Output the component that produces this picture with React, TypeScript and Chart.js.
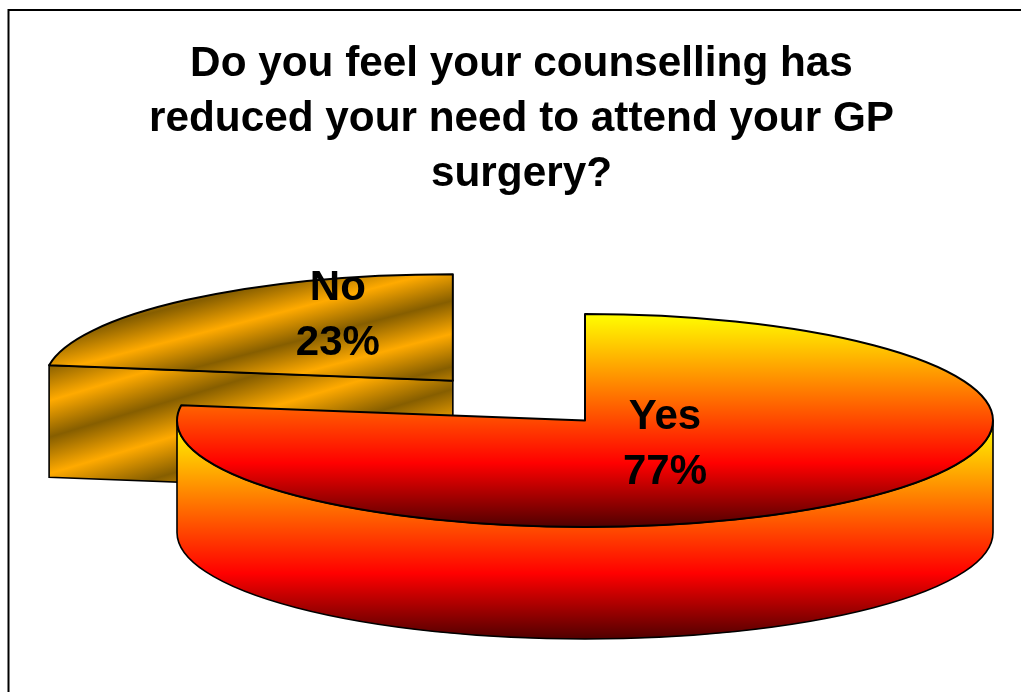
import React, { useEffect, useRef } from "react";
import { Chart, registerables } from "chart.js";

Chart.register(...registerables);

const categories = ["No", "Yes"];
const percentages = [22.7, 77.3];
const explodePixels = [202, 0];
const titleLines = [
  "Do you feel your counselling has",
  "reduced your need to attend your GP",
  "surgery?",
];

const FONT = "'Liberation Sans', Arial, sans-serif";
const RADIUS = 408;
const SQUASH = 0.261;
const DEPTH = 112;
const PIE_X = 585;
const PIE_Y = 420.5;
const START_ROTATION = (-percentages[0] / (percentages[0] + percentages[1])) * 360;
const LABEL_SHIFT = [
  [-115, -65],
  [80, 24],
];
const TOP_BAND_SLOPE = 0.26;
const TOP_BAND_PERIOD = 66;
const SIDE_BAND_SLOPE = 0.3;
const SIDE_BAND_PERIOD = 73;
const BAND_LIGHT = "#FFAA00";
const BAND_DARK = "#865E00";

function fireStops(g: CanvasGradient) {
  g.addColorStop(0, "#FFFF00");
  g.addColorStop(0.7, "#FF0000");
  g.addColorStop(1, "#500000");
  return g;
}

function bandGradient(ctx: CanvasRenderingContext2D, ax: number, ay: number, gx: number, gy: number) {
  const n2 = gx * gx + gy * gy;
  const N = 8;
  const ux = (gx / n2) * N;
  const uy = (gy / n2) * N;
  const g = ctx.createLinearGradient(ax - ux, ay - uy, ax + ux, ay + uy);
  const steps = N * 4;
  for (let i = 0; i <= steps; i++) {
    g.addColorStop(i / steps, i % 2 === 0 ? BAND_LIGHT : BAND_DARK);
  }
  return g;
}

function explodeOf(index: number, start: number, end: number) {
  const mid = (start + end) / 2;
  return { dx: Math.cos(mid) * explodePixels[index], dy: Math.sin(mid) * explodePixels[index] };
}

function sliceFill(c: any) {
  const chart = c.chart;
  const area = chart.chartArea;
  if (!area) return BAND_LIGHT;
  const ctx = chart.ctx;
  const cx0 = (area.left + area.right) / 2;
  const cy0 = (area.top + area.bottom) / 2;
  if (c.dataIndex === 1) {
    return fireStops(ctx.createLinearGradient(0, cy0 - RADIUS, 0, cy0 + RADIUS));
  }
  // Bands are straight lines on the page, so they are converted into the unsquashed space.
  // Anchor: a light band passes 47px above the slice's apex.
  return bandGradient(ctx, cx0, cy0 - 47 / SQUASH, TOP_BAND_SLOPE / TOP_BAND_PERIOD, SQUASH / TOP_BAND_PERIOD);
}

function sideFill(ctx: CanvasRenderingContext2D, index: number, apexX: number, apexY: number) {
  if (index === 1) return fireStops(ctx.createLinearGradient(0, apexY, 0, apexY + RADIUS * SQUASH + DEPTH));
  return bandGradient(ctx, apexX, apexY + 45, SIDE_BAND_SLOPE / SIDE_BAND_PERIOD, 1 / SIDE_BAND_PERIOD);
}

const pie3d = {
  id: "pie3d",
  beforeDraw(chart: any) {
    const ctx = chart.ctx;
    ctx.save();
    ctx.strokeStyle = "#000";
    ctx.lineWidth = 2;
    ctx.strokeRect(8.5, 10, chart.width + 20, chart.height + 20);
    ctx.restore();
  },
  beforeDatasetsDraw(chart: any) {
    const ctx: CanvasRenderingContext2D = chart.ctx;
    const arcs = chart.getDatasetMeta(0).data;
    const ry = RADIUS * SQUASH;
    arcs.forEach((arc: any, i: number) => {
      const { startAngle: a0, endAngle: a1, x, y } = arc;
      const { dx, dy } = explodeOf(i, a0, a1);
      const ax = PIE_X + dx;
      const ay = PIE_Y + dy * SQUASH;
      const fill = sideFill(ctx, i, ax, ay);

      const sidePath = (build: () => void) => {
        ctx.save();
        ctx.beginPath();
        build();
        ctx.closePath();
        ctx.fillStyle = fill;
        ctx.fill();
        ctx.strokeStyle = "#000";
        ctx.lineWidth = 1.6;
        ctx.stroke();
        ctx.restore();
      };

      // flat cut faces that look towards the viewer
      [
        [a0, a0 - Math.PI / 2],
        [a1, a1 + Math.PI / 2],
      ].forEach(([edge, normal]) => {
        if (Math.sin(normal) > 1e-6) {
          const rimX = ax + Math.cos(edge) * RADIUS;
          const rimY = ay + Math.sin(edge) * ry;
          sidePath(() => {
            ctx.moveTo(ax, ay);
            ctx.lineTo(rimX, rimY);
            ctx.lineTo(rimX, rimY + DEPTH);
            ctx.lineTo(ax, ay + DEPTH);
          });
        }
      });

      // curved outer wall on the front half of the ellipse
      [-2, 0, 2].forEach((k) => {
        const from = Math.max(a0, k * Math.PI);
        const to = Math.min(a1, (k + 1) * Math.PI);
        if (to > from) {
          sidePath(() => {
            ctx.ellipse(ax, ay, RADIUS, ry, 0, from, to);
            ctx.ellipse(ax, ay + DEPTH, RADIUS, ry, 0, to, from, true);
          });
        }
      });

      // top face: the library's own arc, squashed
      ctx.save();
      ctx.translate(ax, ay);
      ctx.scale(1, SQUASH);
      ctx.translate(-x, -y);
      arc.draw(ctx);
      ctx.restore();

      ctx.save();
      ctx.beginPath();
      ctx.moveTo(ax, ay);
      ctx.ellipse(ax, ay, RADIUS, ry, 0, a0, a1);
      ctx.closePath();
      ctx.strokeStyle = "#000";
      ctx.lineWidth = 2;
      ctx.lineJoin = "round";
      ctx.stroke();
      ctx.restore();
    });

    arcs.forEach((arc: any, i: number) => {
      const { dx, dy } = explodeOf(i, arc.startAngle, arc.endAngle);
      const lx = PIE_X + dx + LABEL_SHIFT[i][0];
      const ly = PIE_Y + dy * SQUASH + LABEL_SHIFT[i][1];
      ctx.save();
      ctx.fillStyle = "#000";
      ctx.font = `bold 42px ${FONT}`;
      ctx.textAlign = "center";
      ctx.textBaseline = "middle";
      ctx.fillText(categories[i], lx, ly - 27.5);
      ctx.fillText(`${Math.round(percentages[i])}%`, lx, ly + 27.5);
      ctx.restore();
    });
    return false;
  },
};

export default function App() {
  const ref = useRef<HTMLCanvasElement>(null);
  useEffect(() => {
    const chart = new Chart(ref.current as HTMLCanvasElement, {
      type: "pie",
      data: {
        labels: categories,
        datasets: [
          {
            data: percentages,
            backgroundColor: sliceFill,
            borderWidth: 0,
            hoverOffset: 0,
            clip: false,
          } as any,
        ],
      },
      options: {
        responsive: false,
        animation: false,
        radius: RADIUS,
        rotation: START_ROTATION,
        layout: { padding: { left: 22, right: 0, top: 37, bottom: 0 } },
        events: [],
        plugins: {
          legend: { display: false },
          tooltip: { enabled: false },
          title: {
            display: true,
            text: titleLines,
            color: "#000",
            padding: 0,
            font: { family: FONT, size: 42.3, weight: "bold", lineHeight: 1.3 },
          },
        },
      } as any,
      plugins: [pie3d],
    });
    return () => chart.destroy();
  }, []);
  return (
    <canvas
      ref={ref}
      width={1021}
      height={692}
      style={{ position: "absolute", left: 0, top: 0, display: "block" }}
    />
  );
}
